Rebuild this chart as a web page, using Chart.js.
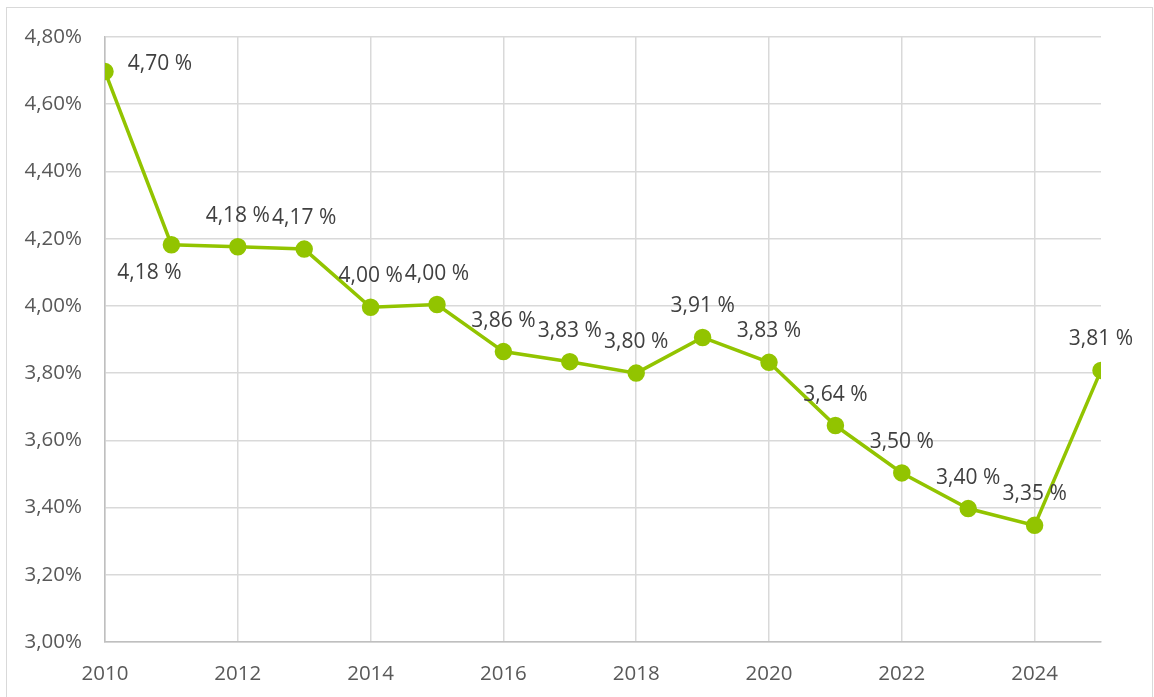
<!DOCTYPE html>
<html lang="de">
<head>
  <meta charset="UTF-8">
  <title>Quote 2010-2025</title>
  <script src="https://cdn.jsdelivr.net/npm/chart.js"></script>
  <style>
    body { margin: 0; background: #fff; overflow: hidden; }
    .frame { position: absolute; left: 6px; top: 7px; width: 1145px; height: 700px; border: 1px solid #d9d9d9; }
    .wrap { position: absolute; left: 0; top: 0; width: 1154px; height: 697px; }
  </style>
</head>
<body>
  <div class="frame"></div>
  <div class="wrap"><canvas id="rateChart"></canvas></div>

  <script>
    // values
    const years = [2010, 2011, 2012, 2013, 2014, 2015, 2016, 2017, 2018, 2019, 2020, 2021, 2022, 2023, 2024, 2025];
    const rates = [4.697, 4.182, 4.176, 4.169, 3.996, 4.004, 3.864, 3.834, 3.800, 3.906, 3.832, 3.644, 3.503, 3.397, 3.347, 3.808];
    const xTicks = [2010, 2012, 2014, 2016, 2018, 2020, 2022, 2024];
    const yTicks = [3.0, 3.2, 3.4, 3.6, 3.8, 4.0, 4.2, 4.4, 4.6, 4.8];

    const fmt = v => v.toFixed(2).replace('.', ',');

    // label offsets from the point (x, y); most labels sit above
    const labelOffset = { 0: [55, -8], 1: [-22, 28] };

    const pointLabels = {
      id: 'pointLabels',
      afterDatasetsDraw(chart) {
        const ctx = chart.ctx;
        const meta = chart.getDatasetMeta(0);
        ctx.save();
        ctx.font = '21px "Open Sans"';
        ctx.fillStyle = '#404040';
        ctx.textAlign = 'center';
        ctx.textBaseline = 'middle';
        meta.data.forEach((pt, i) => {
          const off = labelOffset[i] || [0, -31];
          ctx.fillText(fmt(rates[i]) + ' %', pt.x + off[0], pt.y + off[1]);
        });
        ctx.restore();
      }
    };

    new Chart('rateChart', {
      type: 'line',
      data: {
        datasets: [{
          data: years.map((y, i) => ({ x: y, y: rates[i] })),
          borderColor: '#92c400',
          backgroundColor: '#92c400',
          borderWidth: 3.5,
          pointRadius: 7,
          pointHoverRadius: 7,
          tension: 0,
          fill: false
        }]
      },
      options: {
        responsive: true,
        maintainAspectRatio: false,
        animation: false,
        layout: { padding: { left: 0, top: 37, right: 53, bottom: 0 } },
        scales: {
          x: {
            type: 'linear',
            min: 2010,
            max: 2025,
            afterBuildTicks: s => { s.ticks = xTicks.map(v => ({ value: v })); },
            ticks: {
              padding: 20,
              color: '#595959',
              font: { family: 'Open Sans', size: 20.5 },
              callback: v => String(v)
            },
            afterFit: s => { s.height = 55; },
            grid: { color: '#d9d9d9', lineWidth: 1.5, drawTicks: false },
            border: { color: '#bfbfbf', width: 1.5 }
          },
          y: {
            min: 3.0,
            max: 4.8,
            afterBuildTicks: s => { s.ticks = yTicks.map(v => ({ value: v })); },
            ticks: {
              padding: 23,
              color: '#595959',
              font: { family: 'Open Sans', size: 20.5 },
              callback: v => fmt(v) + '%'
            },
            afterFit: s => { s.width = 105; },
            grid: { color: '#d9d9d9', lineWidth: 1.5, drawTicks: false },
            border: { color: '#bfbfbf', width: 1.5 }
          }
        },
        plugins: {
          legend: { display: false },
          tooltip: { enabled: false }
        }
      },
      plugins: [pointLabels]
    });
  </script>
</body>
</html>
